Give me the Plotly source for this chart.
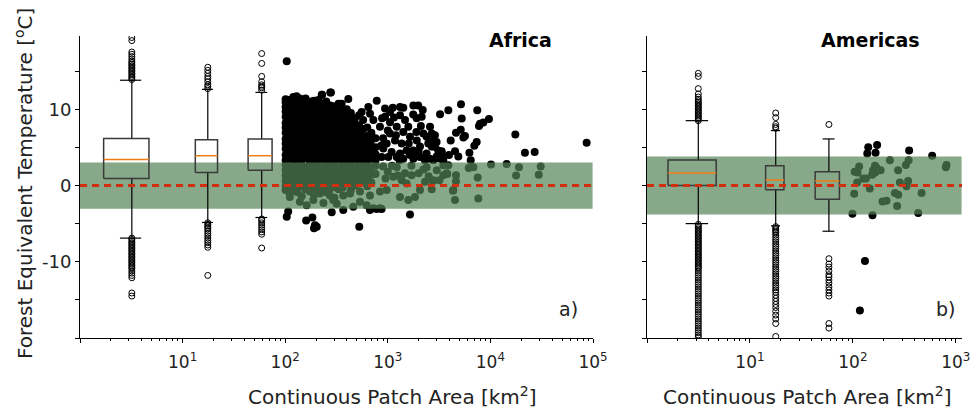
import plotly.graph_objects as go

W, H = 978, 409
FONT = "DejaVu Sans"

# ---------------- Africa: scatter of patches > 100 km2 ----------------
afr_cols_x = [101, 110, 120, 132, 145, 158, 174, 191, 209, 229, 251, 275,
              302, 331, 363, 398, 437, 479, 525, 575, 631, 692, 759]
afr_cols_warm = [
    [3.3, 4.0, 4.8, 5.5, 6.1, 6.9, 7.6, 8.2, 9.0, 9.7, 10.3, 10.9, 11.3],
    [3.6, 4.3, 4.9, 5.7, 6.4, 7.1, 7.8, 8.5, 9.2, 9.8, 10.6, 11.2],
    [3.2, 3.9, 4.6, 5.4, 6.0, 6.8, 7.4, 8.1, 8.9, 9.5, 10.2, 10.9, 11.6],
    [3.5, 4.2, 5.0, 5.7, 6.3, 7.1, 7.8, 8.6, 9.3, 10.0, 10.7, 11.3],
    [3.3, 4.1, 4.7, 5.5, 6.2, 6.9, 7.6, 8.3, 9.1, 9.8, 10.5, 11.0],
    [3.6, 4.4, 5.1, 5.8, 6.5, 7.2, 8.0, 8.7, 9.4, 10.1, 10.8, 11.4],
    [3.2, 3.9, 4.6, 5.3, 6.0, 6.7, 7.4, 8.1, 8.8, 9.5, 10.2, 10.9],
    [3.4, 4.2, 4.9, 5.6, 6.4, 7.1, 7.8, 8.5, 9.2, 9.9, 10.6, 11.1],
    [3.3, 4.0, 4.8, 5.5, 6.2, 6.9, 7.7, 8.4, 9.1, 9.7, 10.4, 11.0],
    [3.5, 4.3, 5.0, 5.7, 6.4, 7.1, 7.9, 8.6, 9.3, 10.0, 10.7, 11.9],
    [3.2, 3.9, 4.7, 5.4, 6.1, 6.8, 7.5, 8.3, 9.0, 9.6, 10.3, 11.0],
    [3.4, 4.1, 4.8, 5.6, 6.3, 7.0, 7.7, 8.4, 9.1, 9.9, 10.5, 12.2],
    [3.3, 4.0, 4.7, 5.4, 6.2, 6.9, 7.6, 8.3, 9.0, 9.7, 10.4],
    [3.5, 4.2, 4.9, 5.7, 6.4, 7.1, 7.8, 8.5, 9.3, 10.0, 10.7],
    [3.2, 4.0, 4.7, 5.5, 6.2, 6.9, 7.6, 8.4, 9.1, 9.8],
    [3.4, 4.1, 4.9, 5.6, 6.3, 7.0, 7.8, 8.5, 9.3, 10.0],
    [3.3, 4.0, 4.8, 5.5, 6.2, 7.0, 7.7, 8.6, 9.5],
    [3.5, 4.2, 4.9, 5.7, 6.4, 7.2, 8.0, 8.8],
    [3.2, 4.0, 4.7, 5.5, 6.3, 7.1, 7.9, 9.2],
    [3.4, 4.1, 4.9, 5.7, 6.5, 7.4, 8.6],
    [3.3, 4.0, 4.8, 5.6, 6.5, 7.6],
    [3.5, 4.3, 5.1, 6.0, 6.9],
    [3.3, 4.1, 5.0, 6.2],
]
afr_cols_band = [
    [2.7, 2.0, 1.3, 0.6, -0.1, -0.6],
    [2.4, 1.7, 1.0, 0.3, -0.4, -1.0],
    [2.8, 2.1, 1.4, 0.7, 0.0, -0.7],
    [2.5, 1.8, 1.1, 0.4, -0.3, -0.9],
    [2.7, 2.0, 1.3, 0.6, -0.1, -1.4],
    [2.4, 1.7, 1.0, 0.3, -0.5],
    [2.8, 2.1, 1.4, 0.7, 0.0, -0.8],
    [2.5, 1.8, 1.1, 0.4, -0.4, -1.2],
    [2.7, 2.0, 1.3, 0.6, -0.2],
    [2.4, 1.7, 1.0, 0.3, -0.6],
    [2.8, 2.1, 1.4, 0.7, -0.1, -0.9],
    [2.5, 1.8, 1.1, 0.4, -0.4],
    [2.7, 2.0, 1.3, 0.6, -0.2, -1.6],
    [2.4, 1.7, 1.0, 0.2, -0.5],
    [2.8, 2.1, 1.4, 0.6, -0.3],
    [2.5, 1.8, 1.0, 0.3],
    [2.7, 2.0, 1.2, 0.4, -0.6],
    [2.4, 1.6, 0.8, 0.0],
    [2.8, 2.0, 1.1, 0.3],
    [2.5, 1.6, 0.6],
    [2.7, 1.8, 0.9, -0.1],
    [2.4, 1.4, 0.4],
    [2.6, 1.5],
]
afr_sparse = [
    (103.5, 16.3), (129, 11.7), (139, 11.4), (156, 11.2), (181, 11.0), (210, 11.2),
    (227, 11.9), (244, 10.8), (279, 12.2), (318, 10.3), (355, 10.7), (397, 9.9),
    (412, 11.35), (556, 9.65), (646, 10.3), (671, 9.4), (723, 8.6), (780, 11.1),
    (839, 7.7), (871, 3.75), (904, 4.85), (940, 10.1), (940, 9.0), (975, 5.5),
    (1012, 3.75), (1050, 6.8), (1090, 4.4), (1117, 10.2), (1175, 5.9), (1222, 7.7),
    (1222, 3.75), (1315, 9.2), (1315, 4.2), (1365, 5.5), (1416, 10.2), (1416, 7.0),
    (1416, 3.5), (1525, 4.6), (1585, 7.7), (1645, 6.4), (1645, 4.0), (1770, 9.3),
    (1775, 4.6), (1775, 3.5), (1910, 8.8), (1915, 5.9), (1980, 10.5), (2060, 5.1),
    (2060, 3.75), (2140, 9.0), (2190, 9.9), (2220, 6.8), (2390, 6.4), (2390, 4.2),
    (2480, 5.5), (2580, 7.7), (2580, 3.5), (2680, 6.8), (2680, 5.1), (2780, 5.1),
    (2780, 5.9), (2780, 3.3), (2880, 6.6), (2880, 5.1), (2990, 5.7), (2990, 3.8),
    (3100, 4.6), (3230, 9.34), (3230, 3.5), (3350, 4.5), (3350, 4.2), (3480, 3.75),
    (3475, 3.3), (3890, 9.87), (3950, 4.0), (4100, 5.9), (4520, 4.5), (4620, 6.9),
    (4870, 3.8), (5140, 7.3), (5170, 10.66), (5250, 8.78), (5450, 6.3), (5650, 6.5),
    (6240, 4.3), (6430, 3.3), (6970, 5.2), (7350, 5.7), (7450, 9.87), (7740, 7.8),
    (7920, 8.1), (8530, 8.26), (9680, 8.73), (17500, 6.7), (21700, 4.3), (27000, 4.4),
    (86700, 5.6), (1315, 10.3), (1775, 10.5), (1050, 9.65), (1472, 8.6), (1050, 8.3),
    (1150, 8.9), (880, 8.8), (1200, 6.6), (1600, 5.5), (1900, 7.0), (2100, 7.8),
    (1000, 7.2), (900, 6.2), (1300, 3.3), (1750, 4.0), (2300, 3.3), (2000, 4.4), (860, 5.2),
    # inside the +-3 K band
    (1132, 1.13), (1315, -1.5), (1585, -1.9), (1710, 1.35), (1840, -1.5), (2060, -0.6),
    (2305, 0.5), (2680, -0.5), (2780, 0.7), (3480, 1.35), (3750, 1.6), (4350, -0.6),
    (4520, -1.9), (4620, 1.35), (2220, 2.1), (2390, 2.4), (3890, 2.65), (1365, 0.7),
    (1472, 1.6), (1222, 2.4), (1525, 0.26), (3180, 0.7), (2740, 0.6), (4620, 0.56),
    (4320, -0.7), (3800, 1.5), (3480, 2.65), (6820, 2.4), (6150, 2.3), (7520, 1.05),
    (7620, -1.7), (10140, 2.75), (14400, 2.8), (19000, 2.4), (17800, 1.3), (30900, 2.5),
    (29600, 1.4), (111, -1.5), (139, -2.15), (162, -2.6), (188, -1.9), (236, -2.3),
    (294, -1.9), (318, -2.4), (461, -2.8), (536, -2.15), (622, -2.6), (723, -3.0),
    (839, -3.0), (671, -1.3), (839, -0.8), (975, -0.6), (428, -1.05), (273, -1.3),
    (218, -1.05), (129, -0.8), (536, -0.8), (368, -1.3), (900, 2.5), (1000, 1.8),
    (950, 0.9), (1100, 2.6), (1250, 1.3), (1700, 2.6), (2000, 1.6), (2500, 1.2),
    (3000, 2.0),
    # below the band
    (107, -3.4), (103.5, -4.1), (160, -4.6), (184, -4.2), (195, -5.2), (203, -5.4),
    (191, -5.6), (284, -3.5), (368, -3.2), (527, -5.4), (670, -3.2), (780, -3.1),
    (871, -3.1), (1645, -3.8),
]

# Africa box plots (patch-size classes below 100 km2)
afr_box_pos = [3.2, 17.6, 59]
afr_q1 = [0.92, 1.7, 2.0]
afr_med = [3.4, 3.9, 3.9]
afr_q3 = [6.16, 6.0, 6.1]
afr_wlo = [-6.9, -4.85, -4.2]
afr_whi = [13.8, 12.6, 12.2]
afr_fliers = [
    [13.9, 14.1, 14.3, 14.5, 14.7, 14.9, 15.1, 15.3, 15.5, 15.7, 15.9, 16.1, 16.3,
     16.6, 16.9, 17.2, 17.5, 19.0, 19.4,
     -6.9, -7.1, -7.3, -7.5, -7.7, -7.9, -8.1, -8.3, -8.5, -8.7, -8.9, -9.1, -9.3,
     -9.5, -9.7, -9.9, -10.1, -10.3, -10.5, -10.7, -10.9, -11.2, -11.5, -11.8, -12.1,
     -14.1, -14.5],
    [12.7, 13.0, 13.2, 13.6, 14.0, 14.3, 14.7, 15.1, 15.5,
     -4.9, -5.1, -5.3, -5.5, -5.7, -6.0, -6.3, -6.6, -6.9, -7.2, -7.5, -7.8, -8.1, -11.8],
    [12.5, 12.8, 13.0, 13.2, 13.6, 14.3, 16.0, 17.3,
     -4.4, -4.6, -4.9, -5.2, -5.5, -5.8, -6.1, -6.4, -8.2],
]
afr_band = [-3.05, 3.0]

# ---------------- Americas ----------------
amr_pts = [
    (141, 5.0), (172, 5.3), (138, 4.2), (166, 4.3), (352, 4.6), (589, 3.9),
    (99, -3.7), (155, -3.9), (431, -3.6), (131, -9.9), (117, -16.4),
    (115, 2.5), (104, 1.8), (111, 1.7), (126, 0.9), (134, 0.9), (110, 0.4),
    (146, -0.4), (103, -1.1), (164, 2.6), (157, 2.0), (170, 2.3), (186, 2.0),
    (165, 1.7), (229, 3.3), (275, 2.0), (327, 2.7), (348, 3.3), (286, 0.4),
    (344, 0.6), (332, -0.1), (256, -1.0), (276, -1.2), (194, -2.1), (212, -2.0),
    (269, -2.7), (465, -1.0), (812, 2.7), (800, 2.4), (154, 1.4),
]
amr_box_pos = [3.15, 17.8, 58.5]
amr_q1 = [0.0, -0.57, -1.8]
amr_med = [1.65, 0.73, 0.6]
amr_q3 = [3.35, 2.6, 1.8]
amr_wlo = [-5.0, -5.3, -6.0]
amr_whi = [8.5, 7.2, 6.1]
amr_fliers = [
    [8.5, 8.7, 8.9, 9.1, 9.3, 9.5, 9.7, 9.9, 10.1, 10.3, 10.5, 10.7, 10.9, 11.1,
     11.3, 11.6, 12.0, 12.7, 14.3, 14.7,
     -5.1, -5.3, -5.5, -5.7, -5.9, -6.1, -6.3, -6.5, -6.7, -6.9, -7.1, -7.3, -7.5,
     -7.7, -7.9, -8.1, -8.3, -8.5, -8.7, -8.9, -9.1, -9.3, -9.5, -9.7, -9.9, -10.1,
     -10.3, -10.5, -10.7, -10.9, -11.2, -11.5, -11.8, -12.1, -12.4, -12.7, -13.0,
     -13.3, -13.6, -13.9, -14.2, -14.5, -14.8, -15.1, -15.4, -15.7, -16.0, -16.3,
     -16.6, -16.9, -17.2, -17.5, -17.8, -18.1, -18.4, -18.7, -19.0, -19.3, -19.6, -19.9],
    [7.5, 7.7, 8.0, 8.9, 9.5,
     -5.4, -5.6, -5.8, -6.0, -6.2, -6.5, -6.8, -7.1, -7.4, -7.7, -8.0, -8.3, -8.6,
     -8.9, -9.2, -9.5, -9.8, -10.1, -10.4, -10.7, -11.0, -11.3, -11.6, -11.9, -12.2,
     -12.5, -12.8, -13.1, -13.4, -13.7, -14.0, -14.4, -14.8, -15.2, -15.6, -16.0,
     -16.5, -17.0, -17.5, -18.1, -19.8],
    [8.0, -9.6, -10.3, -10.7, -11.2, -11.7, -12.0, -12.4, -12.8, -13.3, -13.7,
     -14.1, -14.5, -18.1, -18.7],
]
amr_band = [-3.8, 3.8]

# tick labels
x_major = [1, 10, 100, 1000, 10000, 100000]
x_major_text = ["", "10<sup>1</sup>", "10<sup>2</sup>", "10<sup>3</sup>",
                "10<sup>4</sup>", "10<sup>5</sup>"]
y_major = [-20, -15, -10, -5, 0, 5, 10, 15]
y_major_text = ["", "", "-10", "", "0", "", "10", ""]

# ---------------- styling ----------------
afr_box_w = [3.0, 8.6, 31.0]
amr_box_w = [3.1, 7.2, 31.0]
Y_RANGE = [-20, 19.6]
AFR_XR = [0, 5]
AMR_XR = [0, 3.06]
BAND_FILL = "rgba(84,132,88,0.70)"
RED = "#d1300f"

fig = go.Figure()


def add_panel(xa, ya, pts_x, pts_y, band, xr, pos, wid, q1, med, q3, wlo, whi, fliers):
    fig.add_trace(go.Scatter(x=pts_x, y=pts_y, mode="markers", xaxis=xa, yaxis=ya,
                             marker=dict(size=8, color="black", line=dict(width=0)),
                             showlegend=False, hoverinfo="skip"))
    xlo, xhi = 10 ** xr[0], 10 ** (xr[1] - 0.004)
    fig.add_trace(go.Scatter(x=[xlo, xhi, xhi, xlo, xlo],
                             y=[band[0], band[0], band[1], band[1], band[0]],
                             mode="lines", fill="toself", fillcolor=BAND_FILL,
                             line=dict(width=0), xaxis=xa, yaxis=ya,
                             showlegend=False, hoverinfo="skip"))
    bx, by, mx, my, wx, wy, fx, fy = [], [], [], [], [], [], [], []
    for i, p in enumerate(pos):
        l, r = p - wid[i] / 2, p + wid[i] / 2
        cl, cr = p - wid[i] / 4, p + wid[i] / 4
        bx += [l, r, r, l, l, None]
        by += [q1[i], q1[i], q3[i], q3[i], q1[i], None]
        mx += [l, r, None]
        my += [med[i], med[i], None]
        wx += [p, p, None, p, p, None, cl, cr, None, cl, cr, None]
        wy += [q3[i], whi[i], None, q1[i], wlo[i], None,
               whi[i], whi[i], None, wlo[i], wlo[i], None]
        fx += [p] * len(fliers[i])
        fy += fliers[i]
    fig.add_trace(go.Scatter(x=fx, y=fy, mode="markers", xaxis=xa, yaxis=ya,
                             marker=dict(symbol="circle-open", size=6, color="black",
                                         line=dict(width=1)),
                             showlegend=False, hoverinfo="skip"))
    fig.add_trace(go.Scatter(x=wx, y=wy, mode="lines", xaxis=xa, yaxis=ya,
                             line=dict(color="black", width=1.2),
                             showlegend=False, hoverinfo="skip"))
    fig.add_trace(go.Scatter(x=bx, y=by, mode="lines", xaxis=xa, yaxis=ya,
                             line=dict(color="#3a3a3a", width=1.5),
                             showlegend=False, hoverinfo="skip"))
    fig.add_trace(go.Scatter(x=mx, y=my, mode="lines", xaxis=xa, yaxis=ya,
                             line=dict(color="#f07d14", width=1.5),
                             showlegend=False, hoverinfo="skip"))
    fig.add_trace(go.Scatter(x=[10 ** xr[0], 10 ** xr[1]], y=[0, 0], mode="lines",
                             xaxis=xa, yaxis=ya,
                             line=dict(color=RED, width=3, dash="7px,5px"),
                             showlegend=False, hoverinfo="skip"))


afr_x = []
afr_y = []
for cx, warm, cool in zip(afr_cols_x, afr_cols_warm, afr_cols_band):
    for v in warm + cool:
        afr_x.append(cx)
        afr_y.append(v)
afr_x += [p[0] for p in afr_sparse]
afr_y += [p[1] for p in afr_sparse]

add_panel("x", "y", afr_x, afr_y, afr_band, AFR_XR, afr_box_pos, afr_box_w,
          afr_q1, afr_med, afr_q3, afr_wlo, afr_whi, afr_fliers)
add_panel("x2", "y2", [p[0] for p in amr_pts], [p[1] for p in amr_pts], amr_band,
          AMR_XR, amr_box_pos, amr_box_w, amr_q1, amr_med, amr_q3, amr_wlo, amr_whi,
          amr_fliers)

minor_vals = [m * 10 ** d for d in range(0, 5) for m in range(2, 10)]

common_x = dict(type="log", showline=True, linecolor="black", linewidth=1,
                ticks="outside", ticklen=4, tickwidth=1, tickcolor="black",
                tickmode="array", tickvals=x_major, ticktext=x_major_text,
                minor=dict(ticks="outside", ticklen=2, tickwidth=1, tickcolor="black",
                           tickmode="array", tickvals=minor_vals, showgrid=False),
                showgrid=False, zeroline=False, automargin=False,
                tickfont=dict(family=FONT, size=17, color="#222"),
                ticklabelstandoff=5)
common_y = dict(range=Y_RANGE, domain=[1 - 338 / H, 1 - 36 / H], showline=True,
                linecolor="black", linewidth=1, ticks="outside", ticklen=4,
                tickwidth=1, tickcolor="black", tickmode="array", tickvals=y_major,
                ticktext=y_major_text, showgrid=False, zeroline=False, automargin=False,
                tickfont=dict(family=FONT, size=18, color="#222"))

fig.update_layout(
    width=W, height=H, margin=dict(l=0, r=0, t=0, b=0, pad=0, autoexpand=False),
    paper_bgcolor="white", plot_bgcolor="white", showlegend=False,
    xaxis=dict(common_x, domain=[80 / W, 593 / W], range=AFR_XR, anchor="y"),
    xaxis2=dict(common_x, domain=[647 / W, 962 / W], range=AMR_XR, anchor="y2"),
    yaxis=dict(common_y, anchor="x"),
    yaxis2=dict(common_y, anchor="x2", showticklabels=False),
    font=dict(family=FONT, color="#222"),
)

ann = dict(xref="paper", yref="paper", showarrow=False, xanchor="center", yanchor="middle",
           font=dict(family=FONT, size=20, color="#222"))
fig.add_annotation(ann, x=24 / W, y=1 - 184 / H,
                   text="Forest Equivalent Temperature [<sup>o</sup>C]", textangle=-90)
fig.add_annotation(ann, x=392 / W, y=1 - 396 / H, text="Continuous Patch Area [km<sup>2</sup>]")
fig.add_annotation(ann, x=807 / W, y=1 - 396 / H, text="Continuous Patch Area [km<sup>2</sup>]")
fig.add_annotation(dict(ann, font=dict(family=FONT, size=19, color="black")),
                   x=520 / W, y=1 - 40 / H, text="<b>Africa</b>")
fig.add_annotation(dict(ann, font=dict(family=FONT, size=19, color="black")),
                   x=870 / W, y=1 - 40 / H, text="<b>Americas</b>")
fig.add_annotation(dict(ann, font=dict(family=FONT, size=19, color="#222")),
                   x=568 / W, y=1 - 309 / H, text="a)")
fig.add_annotation(dict(ann, font=dict(family=FONT, size=19, color="#222")),
                   x=945 / W, y=1 - 309 / H, text="b)")

fig.write_html(
    "out.html", config={"displayModeBar": False},
    post_script=("document.documentElement.style.overflow='hidden';"
                 "document.body.style.overflow='hidden';"
                 "document.body.style.margin='0';document.body.style.padding='0';"))
